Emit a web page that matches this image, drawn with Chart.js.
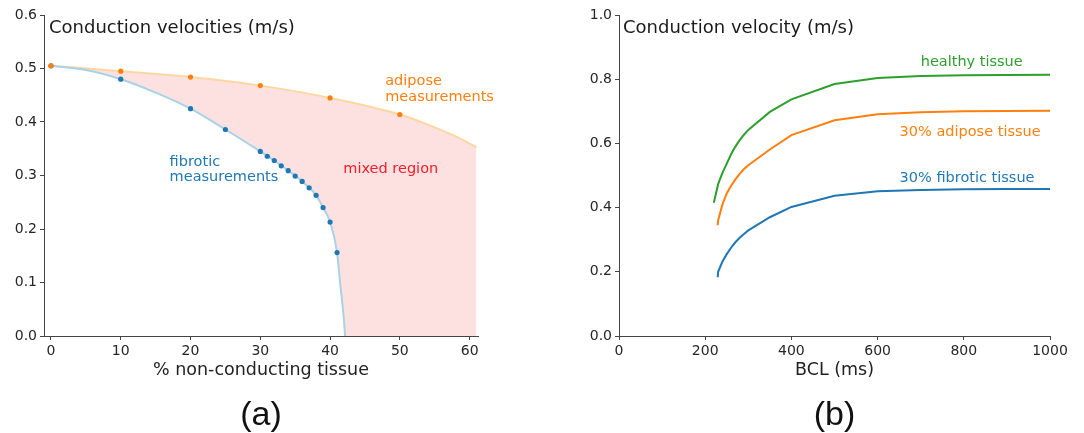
<!DOCTYPE html>
<html>
<head>
<meta charset="utf-8">
<script src="https://cdn.jsdelivr.net/npm/chart.js@4.4.1/dist/chart.umd.min.js"></script>
<style>
  html, body { margin: 0; padding: 0; background: #fff; }
  #fig { position: relative; width: 1084px; height: 433px; overflow: hidden; font-family: "DejaVu Sans", sans-serif; }
  .panel { position: absolute; top: 0; height: 433px; }
  .xlabel { position: absolute; top: 358px; height: 22px; line-height: 22px; font-size: 17.5px; color: #222; text-align: center; }
  .tag { position: absolute; top: 394px; height: 38px; line-height: 38px; font-family: "Liberation Sans", Arial, sans-serif; font-size: 34px; color: #111; text-align: center; }
</style>
</head>
<body>
<div id="fig">
  <div class="panel" style="left:0;width:540px"><canvas id="chart-a"></canvas></div>
  <div class="panel" style="left:540px;width:544px"><canvas id="chart-b"></canvas></div>
  <div class="xlabel" style="left:44px;width:434px">% non-conducting tissue</div>
  <div class="tag" style="left:44px;width:434px">(a)</div>
  <div class="xlabel" style="left:619px;width:431px">BCL (ms)</div>
  <div class="tag" style="left:619px;width:431px">(b)</div>
</div>
<script>
'use strict';

// ---- (a) conduction velocity vs amount of non-conducting tissue
var fibroticPct = [0, 10, 20, 25, 30, 31, 32, 33, 34, 35, 36, 37, 38, 39, 40, 41];
var fibroticCV  = [0.505, 0.480, 0.425, 0.386, 0.345, 0.336, 0.328, 0.318, 0.309, 0.299, 0.289, 0.277, 0.263, 0.240, 0.213, 0.156];
var adiposePct  = [0, 10, 20, 30, 40, 50];
var adiposeCV   = [0.505, 0.495, 0.484, 0.468, 0.445, 0.414];

var fibroticFitPct = [0, 5, 10, 15, 20, 25, 30, 32, 34, 36, 38, 39, 40, 41, 41.4, 41.95, 42.15];
var fibroticFitCV  = [0.505, 0.497, 0.480, 0.455, 0.425, 0.386, 0.345, 0.328, 0.309, 0.289, 0.263, 0.240, 0.213, 0.156, 0.104, 0.035, 0];
var adiposeFitPct  = [0, 10, 20, 30, 40, 50, 55, 58, 61];
var adiposeFitCV   = [0.505, 0.495, 0.484, 0.468, 0.445, 0.414, 0.390, 0.373, 0.353];

var xTicksA = [0, 10, 20, 30, 40, 50, 60];
var yTicksA = [0, 0.1, 0.2, 0.3, 0.4, 0.5, 0.6];

// ---- (b) conduction velocity vs BCL
var healthyBCL = [220, 230, 240, 250, 260, 270, 280, 290, 300, 350, 400, 500, 600, 700, 800, 900, 1000];
var healthyCV  = [0.415, 0.473, 0.508, 0.537, 0.566, 0.590, 0.610, 0.627, 0.642, 0.698, 0.737, 0.785, 0.804, 0.810, 0.812, 0.813, 0.814];
var adiposeBCL = [229, 230, 240, 250, 260, 270, 280, 290, 300, 350, 400, 500, 600, 700, 800, 900, 1000];
var adipose30CV = [0.345, 0.360, 0.410, 0.444, 0.468, 0.488, 0.505, 0.520, 0.532, 0.581, 0.626, 0.672, 0.691, 0.697, 0.700, 0.701, 0.702];
var fibroticBCL = [229, 230, 240, 250, 260, 270, 280, 290, 300, 350, 400, 500, 600, 700, 800, 900, 1000];
var fibrotic30CV = [0.183, 0.200, 0.232, 0.255, 0.275, 0.292, 0.306, 0.318, 0.329, 0.370, 0.402, 0.437, 0.451, 0.455, 0.457, 0.458, 0.458];

var xTicksB = [0, 200, 400, 600, 800, 1000];
var yTicksB = [0, 0.2, 0.4, 0.6, 0.8, 1.0];

var C_BLUE = '#1f77b4';
var C_ORANGE = '#ff7f0e';
var C_GREEN = '#2ca02c';
var C_AXIS = '#444';
var C_TEXT = '#262626';

Chart.defaults.font.family = '"DejaVu Sans", sans-serif';
Chart.defaults.color = C_TEXT;

function pts(xs, ys) {
  return xs.map(function (x, i) { return {x: x, y: ys[i]}; });
}

function setTicks(list) {
  return function (scale) {
    scale.ticks = list.map(function (v) { return {value: v}; });
  };
}

// text written inside the plot area
var notesPlugin = {
  id: 'notes',
  afterDatasetsDraw: function (chart, args, opts) {
    var ctx = chart.ctx;
    var area = chart.chartArea;
    var xs = chart.scales.x;
    var ys = chart.scales.y;
    ctx.save();
    ctx.textAlign = 'left';
    ctx.textBaseline = 'alphabetic';
    opts.items.forEach(function (t) {
      ctx.font = t.size + 'px "DejaVu Sans"';
      ctx.fillStyle = t.color;
      var px, py;
      if (t.axes) {
        px = area.left + t.dx;
        py = area.top + t.dy;
      } else {
        px = xs.getPixelForValue(t.x);
        py = ys.getPixelForValue(t.y);
      }
      ctx.fillText(t.text, px, py);
    });
    ctx.restore();
  }
};

function axisX(min, max, ticks) {
  return {
    type: 'linear',
    min: min,
    max: max,
    afterBuildTicks: setTicks(ticks),
    afterFit: function (scale) { scale.height = 97; },
    grid: { display: true, drawOnChartArea: false, drawTicks: true, tickLength: 4, color: C_AXIS },
    border: { display: true, color: C_AXIS, width: 1, z: 1 },
    ticks: { color: C_TEXT, font: { size: 14 }, padding: 3, maxRotation: 0,
      callback: function (v) { return String(v); } }
  };
}

function axisY(max, ticks, width) {
  return {
    type: 'linear',
    min: 0,
    max: max,
    afterBuildTicks: setTicks(ticks),
    afterFit: function (scale) { scale.width = width; },
    grid: { display: true, drawOnChartArea: false, drawTicks: true, tickLength: 4, color: C_AXIS },
    border: { display: true, color: C_AXIS, width: 1, z: 1 },
    ticks: { color: C_TEXT, font: { size: 14 }, padding: 3,
      callback: function (v) { return v.toFixed(1); } }
  };
}

function createChart_a() {
  var ctx = document.getElementById('chart-a').getContext('2d');
  new Chart(ctx, {
    type: 'scatter',
    data: {
      datasets: [{
        label: 'adipose measurements',
        data: pts(adiposePct, adiposeCV),
        backgroundColor: C_ORANGE,
        borderWidth: 0,
        pointRadius: 2.6,
        showLine: false
      }, {
        label: 'fibrotic measurements',
        data: pts(fibroticPct, fibroticCV),
        backgroundColor: C_BLUE,
        borderWidth: 0,
        pointRadius: 2.6,
        showLine: false
      }, {
        label: 'fibrotic fit',
        data: pts(fibroticFitPct, fibroticFitCV),
        showLine: true,
        borderColor: '#a9d2e6',
        borderWidth: 2,
        pointRadius: 0,
        cubicInterpolationMode: 'monotone',
        fill: { target: 'origin', above: '#ffffff' }
      }, {
        label: 'adipose fit',
        data: pts(adiposeFitPct, adiposeFitCV),
        showLine: true,
        borderColor: '#fdd7a2',
        borderWidth: 2,
        pointRadius: 0,
        cubicInterpolationMode: 'monotone',
        fill: { target: 'origin', above: '#fde1e1' }
      }]
    },
    options: {
      responsive: true,
      maintainAspectRatio: false,
      animation: false,
      events: [],
      layout: { padding: { top: 15, right: 62, left: 0, bottom: 0 } },
      scales: {
        x: axisX(-1, 61.2, xTicksA),
        y: axisY(0.6, yTicksA, 44)
      },
      plugins: {
        legend: { display: false },
        tooltip: { enabled: false },
        notes: { items: [
          { axes: true, dx: 5, dy: 18, text: 'Conduction velocities (m/s)', color: '#1a1a1a', size: 18 },
          { x: 17.0, y: 0.317, text: 'fibrotic', color: C_BLUE, size: 14.5 },
          { x: 17.0, y: 0.290, text: 'measurements', color: C_BLUE, size: 14.5 },
          { x: 47.9, y: 0.470, text: 'adipose', color: C_ORANGE, size: 14.5 },
          { x: 47.9, y: 0.440, text: 'measurements', color: C_ORANGE, size: 14.5 },
          { x: 41.9, y: 0.304, text: 'mixed region', color: '#f01e28', size: 14.5 }
        ] }
      }
    },
    plugins: [notesPlugin]
  });
}

function lineSet(label, xs, ys, color) {
  return {
    label: label,
    data: pts(xs, ys),
    showLine: true,
    borderColor: color,
    borderWidth: 2,
    pointRadius: 0,
    tension: 0,
    fill: false
  };
}

function createChart_b() {
  var ctx = document.getElementById('chart-b').getContext('2d');
  new Chart(ctx, {
    type: 'scatter',
    data: {
      datasets: [
        lineSet('healthy tissue', healthyBCL, healthyCV, C_GREEN),
        lineSet('30% adipose tissue', adiposeBCL, adipose30CV, C_ORANGE),
        lineSet('30% fibrotic tissue', fibroticBCL, fibrotic30CV, C_BLUE)
      ]
    },
    options: {
      responsive: true,
      maintainAspectRatio: false,
      animation: false,
      events: [],
      layout: { padding: { top: 15, right: 34, left: 0, bottom: 0 } },
      scales: {
        x: axisX(0, 1000, xTicksB),
        y: axisY(1.0, yTicksB, 79)
      },
      plugins: {
        legend: { display: false },
        tooltip: { enabled: false },
        notes: { items: [
          { axes: true, dx: 4, dy: 18, text: 'Conduction velocity (m/s)', color: '#1a1a1a', size: 18 },
          { x: 700, y: 0.841, text: 'healthy tissue', color: C_GREEN, size: 14.5 },
          { x: 651, y: 0.624, text: '30% adipose tissue', color: C_ORANGE, size: 14.5 },
          { x: 651, y: 0.479, text: '30% fibrotic tissue', color: C_BLUE, size: 14.5 }
        ] }
      }
    },
    plugins: [notesPlugin]
  });
}

createChart_a();
createChart_b();
</script>
</body>
</html>
